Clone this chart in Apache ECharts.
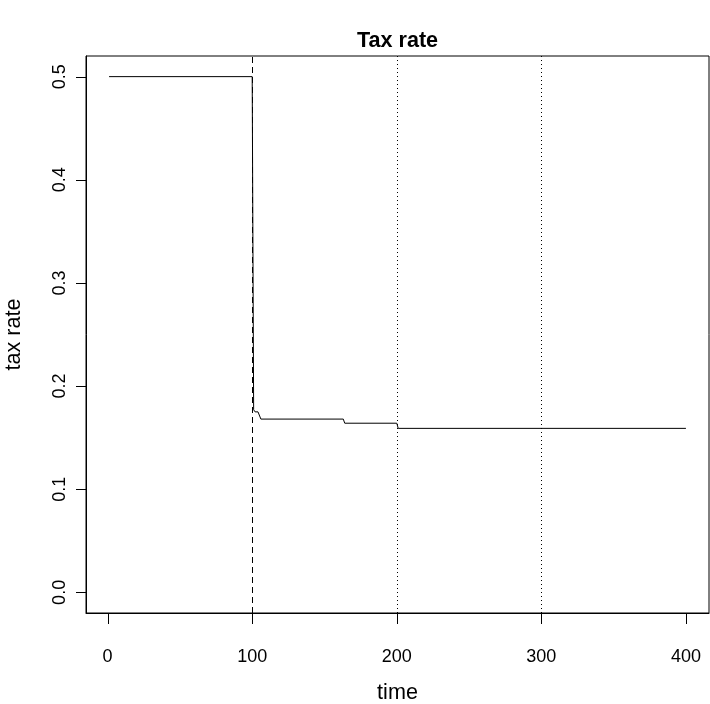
<!DOCTYPE html>
<html>
<head>
<meta charset="utf-8">
<script src="https://cdn.jsdelivr.net/npm/echarts@6/dist/echarts.min.js"></script>
<style>
html,body{margin:0;padding:0;background:#fff;}
#chart{width:710px;height:704px;}
</style>
</head>
<body>
<div id="chart"></div>
<script>
// Data
var timeValues = [1, 100, 101, 102, 104, 106, 163, 164, 200, 201, 400];
var taxRates   = [0.5, 0.5, 0.177, 0.175, 0.175, 0.168, 0.168, 0.164, 0.164, 0.159, 0.159];
var xTicks = [0, 100, 200, 300, 400];
var yTicks = [0.0, 0.1, 0.2, 0.3, 0.4, 0.5];
var dashedLineAt = [100];
var dottedLinesAt = [200, 300];
var xRange = [-14.96, 415.96];
var yRange = [-0.02, 0.52];

var FONT = 'Liberation Sans, Arial, Helvetica, sans-serif';
var seriesData = timeValues.map(function (t, i) { return [t, taxRates[i]]; });

var markData = [];
dashedLineAt.forEach(function (v) {
  markData.push({ xAxis: v, lineStyle: { type: [6, 4], color: '#000', width: 1 } });
});
dottedLinesAt.forEach(function (v) {
  markData.push({ xAxis: v, lineStyle: { type: [1, 3], color: '#000', width: 1 } });
});

var chart = echarts.init(document.getElementById('chart'), null, { renderer: 'canvas' });
chart.setOption({
  animation: false,
  backgroundColor: '#fff',
  textStyle: { fontFamily: FONT, color: '#000' },
  title: {
    text: 'Tax rate',
    left: 397.5,
    textAlign: 'center',
    top: 30,
    padding: 0,
    textStyle: { fontFamily: FONT, fontWeight: 'bold', fontSize: 21.6, color: '#000' }
  },
  grid: {
    left: 86, right: 1, top: 56, bottom: 91,
    containLabel: false,
    outerBoundsMode: 'none',
    show: true, borderColor: '#000', borderWidth: 1, backgroundColor: 'transparent'
  },
  xAxis: {
    type: 'value',
    min: xRange[0], max: xRange[1],
    name: 'time',
    nameLocation: 'middle',
    nameGap: 69,
    nameTextStyle: { fontFamily: FONT, fontSize: 21.6, color: '#000' },
    axisLine: { show: true, onZero: false, lineStyle: { color: '#000', width: 1 } },
    splitLine: { show: false },
    axisTick: { show: false },
    axisLabel: {
      customValues: xTicks, margin: 35, fontFamily: FONT, fontSize: 18, color: '#000',
      formatter: function (v) { return String(Math.round(v)); }
    }
  },
  yAxis: {
    type: 'value',
    min: yRange[0], max: yRange[1],
    name: 'tax rate',
    nameLocation: 'middle',
    nameGap: 61,
    nameTextStyle: { fontFamily: FONT, fontSize: 21.6, color: '#000' },
    axisLine: { show: true, onZero: false, lineStyle: { color: '#000', width: 1 } },
    splitLine: { show: false },
    axisTick: { show: false },
    axisLabel: {
      customValues: yTicks, rotate: 90, margin: 17, fontFamily: FONT, fontSize: 18, color: '#000',
      formatter: function (v) { return Number(v).toFixed(1); }
    }
  },
  series: [{
    type: 'line',
    data: seriesData,
    showSymbol: false,
    symbol: 'none',
    lineStyle: { color: '#000', width: 1 },
    silent: true,
    markLine: {
      silent: true,
      symbol: ['none', 'none'],
      label: { show: false },
      data: markData
    }
  }]
});

// Tick marks placed through the chart's own scales
var tickGraphics = [];
xTicks.forEach(function (v) {
  var p = chart.convertToPixel({ gridIndex: 0 }, [v, yRange[0]]);
  var x = Math.round(p[0]) + 0.5;
  tickGraphics.push({ type: 'line', silent: true, z: 100,
    shape: { x1: x, y1: p[1], x2: x, y2: p[1] + 11 },
    style: { stroke: '#000', lineWidth: 1 } });
});
yTicks.forEach(function (v) {
  var p = chart.convertToPixel({ gridIndex: 0 }, [xRange[0], v]);
  var y = Math.round(p[1]) + 0.5;
  tickGraphics.push({ type: 'line', silent: true, z: 100,
    shape: { x1: p[0], y1: y, x2: p[0] - 10, y2: y },
    style: { stroke: '#000', lineWidth: 1 } });
});
chart.setOption({ graphic: tickGraphics });
</script>
</body>
</html>
